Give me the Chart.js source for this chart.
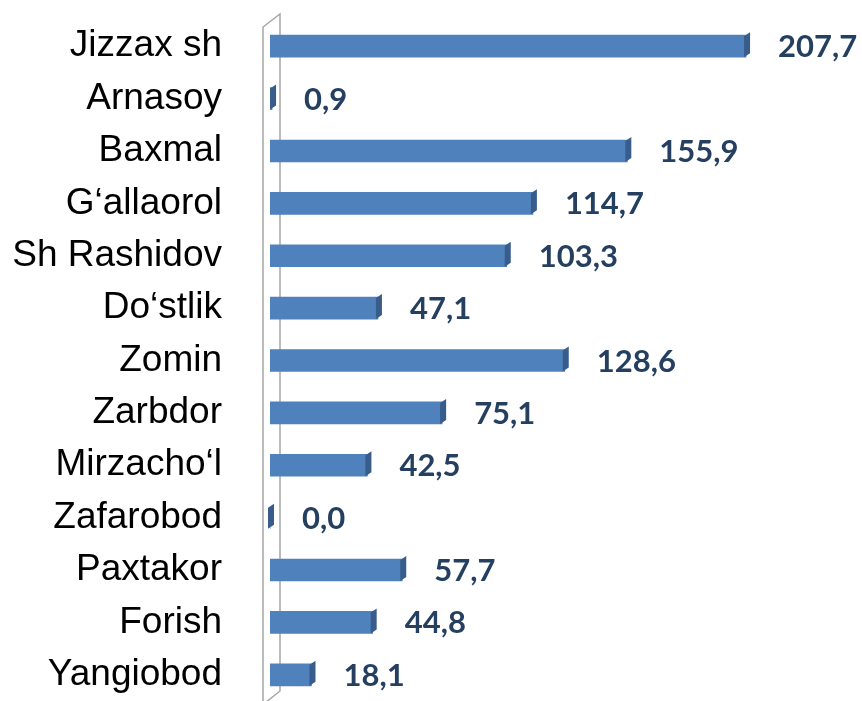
<!DOCTYPE html>
<html>
<head>
<meta charset="utf-8">
<script src="https://cdn.jsdelivr.net/npm/chart.js@4/dist/chart.umd.min.js"></script>
<style>
  html, body { margin: 0; padding: 0; background: #fff; }
  #wrap { width: 862px; height: 701px; }
</style>
</head>
<body>
<div id="wrap"><canvas id="c" width="862" height="701"></canvas></div>
<script>
// District values
const districts = [
  "Jizzax sh", "Arnasoy", "Baxmal", "G‘allaorol", "Sh Rashidov", "Do‘stlik",
  "Zomin", "Zarbdor", "Mirzacho‘l", "Zafarobod", "Paxtakor", "Forish", "Yangiobod"
];
const values = [207.7, 0.9, 155.9, 114.7, 103.3, 47.1, 128.6, 75.1, 42.5, 0.0, 57.7, 44.8, 18.1];

const BAR = "#4F81BD";
const BAR_SIDE = "#385D8A";
const LABEL = "#243F60";
const WALL = "#A6A6A6";

// thin grey "back wall" of the 3D chart
const wallPlugin = {
  id: "wall",
  beforeDatasetsDraw(chart) {
    const { ctx, chartArea } = chart;
    const x0 = chart.scales.x.getPixelForValue(0);
    const l = x0 - 7, r = x0 + 10;
    ctx.save();
    ctx.strokeStyle = WALL;
    ctx.lineWidth = 1.5;
    ctx.beginPath();
    ctx.moveTo(l, chartArea.bottom + 2);
    ctx.lineTo(l, chartArea.top + 7);
    ctx.lineTo(r, chartArea.top - 6);
    ctx.lineTo(r, chartArea.bottom - 10);
    ctx.lineTo(l + 2, chartArea.bottom + 2);
    ctx.stroke();
    ctx.restore();
  },
};

// darker end face for the 3D look, then the value labels
const barFacePlugin = {
  id: "barFace",
  afterDatasetsDraw(chart) {
    const { ctx } = chart;
    const meta = chart.getDatasetMeta(0);
    ctx.save();
    meta.data.forEach((bar, i) => {
      const { x, y, height } = bar.getProps(["x", "y", "height"], true);
      const top = y - height / 2, bot = y + height / 2;
      ctx.fillStyle = BAR_SIDE;
      ctx.beginPath();
      ctx.moveTo(x - 2, top + 1);
      ctx.lineTo(x + 4, top - 3);
      ctx.lineTo(x + 4, bot - 4);
      ctx.lineTo(x - 2, bot);
      ctx.closePath();
      ctx.fill();

      ctx.fillStyle = LABEL;
      ctx.font = "bold 31px Lato, 'Open Sans', sans-serif";
      ctx.textAlign = "left";
      ctx.textBaseline = "middle";
      const txt = values[i].toFixed(1).replace(".", ",");
      ctx.fillText(txt, x + 32, y + 1);
    });
    ctx.restore();
  },
};

new Chart(document.getElementById("c"), {
  type: "bar",
  data: {
    labels: districts,
    datasets: [{
      data: values,
      backgroundColor: BAR,
      borderWidth: 0,
      barThickness: 22,
    }],
  },
  options: {
    indexAxis: "y",
    responsive: false,
    animation: false,
    layout: { padding: { top: 20, right: 19, bottom: 0, left: 0 } },
    plugins: { legend: { display: false }, tooltip: { enabled: false } },
    scales: {
      x: { display: false, min: 0, max: 250 },
      y: {
        grid: { display: false },
        border: { display: false },
        afterFit(s) { s.width = 270; s.paddingTop = 0; s.paddingBottom = 0; },
        ticks: {
          color: "#000",
          padding: 40,
          font: { family: "'Liberation Sans', Arial, sans-serif", size: 37 },
        },
      },
    },
  },
  plugins: [wallPlugin, barFacePlugin],
});
</script>
</body>
</html>
